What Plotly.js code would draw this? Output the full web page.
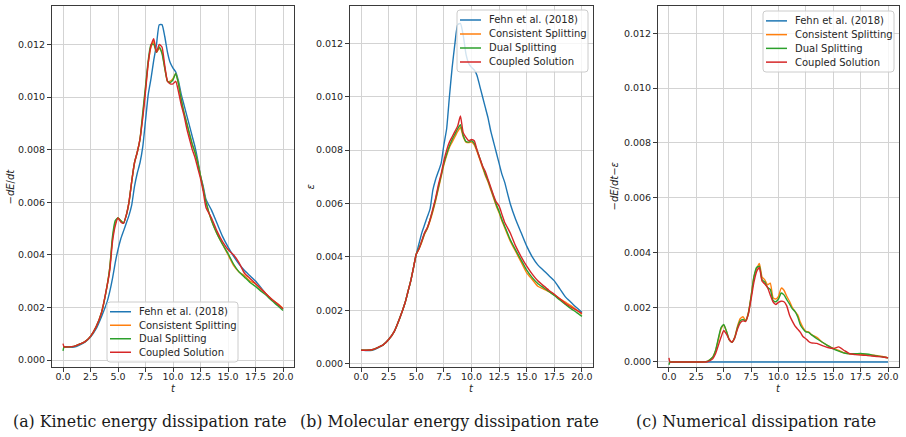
<!DOCTYPE html>
<html>
<head>
<meta charset="utf-8">
<script src="https://cdn.plot.ly/plotly-3.0.1.min.js"></script>
<style>
  html, body { margin: 0; padding: 0; background: #fff; }
  #plot { width: 906px; height: 437px; }
</style>
</head>
<body>
<div id="plot"></div>
<script>
// Time samples shared by all series
const t = [0, 0.1, 0.5, 1, 1.5, 2, 2.5, 3, 3.5,
  4, 4.25, 4.5, 4.75, 5, 5.25, 5.5, 5.75, 6, 6.25, 6.5, 6.75,
  7, 7.25, 7.5, 7.75, 8, 8.25, 8.5, 8.75, 9, 9.25, 9.5, 9.75,
  10, 10.25, 10.5, 10.75, 11, 11.25, 11.5, 11.75, 12, 12.25, 12.5, 12.75, 13,
  13.5, 14, 14.5, 15, 15.5, 16, 16.5, 17, 17.5, 18, 18.5, 19, 19.5, 20];

const seriesNames = ["Fehn et al. (2018)", "Consistent Splitting", "Dual Splitting", "Coupled Solution"];
const seriesColors = ["#1f77b4", "#ff7f0e", "#2ca02c", "#d62728"];

// (a) kinetic energy dissipation rate -dE/dt
const fehnKinetic = [0.00050, 0.00050, 0.00048, 0.00049, 0.00057, 0.00068, 0.00087, 0.00118, 0.00165,
  0.00220, 0.00260, 0.00310, 0.00370, 0.00420, 0.00460, 0.00490, 0.00520, 0.00550, 0.00590, 0.00660, 0.00710,
  0.00750, 0.00810, 0.00910, 0.01010, 0.01070, 0.01140, 0.01200, 0.01275, 0.01275, 0.01230, 0.01170, 0.01130,
  0.01110, 0.01095, 0.01060, 0.01010, 0.00970, 0.00930, 0.00890, 0.00850, 0.00810, 0.00760, 0.00700, 0.00660, 0.00610,
  0.00570, 0.00520, 0.00470, 0.00430, 0.00395, 0.00365, 0.00340, 0.00320, 0.00300, 0.00275, 0.00250, 0.00230, 0.00212, 0.00195];
const consistentKinetic = [0.00050, 0.00050, 0.00050, 0.00052, 0.00060, 0.00070, 0.00090, 0.00125, 0.00180,
  0.00280, 0.00350, 0.00460, 0.00520, 0.00540, 0.00530, 0.00520, 0.00550, 0.00600, 0.00680, 0.00750, 0.00790,
  0.00840, 0.00930, 0.01030, 0.01130, 0.01190, 0.01210, 0.01170, 0.01185, 0.01170, 0.01110, 0.01060, 0.01060,
  0.01070, 0.01090, 0.01050, 0.00990, 0.00940, 0.00900, 0.00860, 0.00820, 0.00790, 0.00750, 0.00700, 0.00650, 0.00600,
  0.00530, 0.00480, 0.00440, 0.00400, 0.00360, 0.00335, 0.00320, 0.00300, 0.00290, 0.00270, 0.00250, 0.00230, 0.00215, 0.00197];
const dualKinetic = [0.00035, 0.00050, 0.00050, 0.00052, 0.00060, 0.00070, 0.00090, 0.00125, 0.00180,
  0.00280, 0.00350, 0.00470, 0.00530, 0.00540, 0.00530, 0.00520, 0.00550, 0.00600, 0.00680, 0.00750, 0.00790,
  0.00840, 0.00940, 0.01040, 0.01140, 0.01200, 0.01200, 0.01170, 0.01190, 0.01165, 0.01110, 0.01060, 0.01055,
  0.01065, 0.01090, 0.01050, 0.00990, 0.00940, 0.00900, 0.00860, 0.00820, 0.00790, 0.00750, 0.00700, 0.00650, 0.00600,
  0.00530, 0.00480, 0.00440, 0.00405, 0.00365, 0.00335, 0.00315, 0.00295, 0.00280, 0.00262, 0.00245, 0.00225, 0.00207, 0.00188];
const coupledKinetic = [0.00062, 0.00050, 0.00050, 0.00052, 0.00060, 0.00070, 0.00090, 0.00125, 0.00180,
  0.00280, 0.00340, 0.00450, 0.00510, 0.00540, 0.00525, 0.00520, 0.00550, 0.00600, 0.00680, 0.00750, 0.00790,
  0.00840, 0.00920, 0.01020, 0.01130, 0.01195, 0.01222, 0.01170, 0.01200, 0.01190, 0.01120, 0.01060, 0.01050,
  0.01050, 0.01060, 0.01020, 0.00970, 0.00930, 0.00880, 0.00840, 0.00800, 0.00770, 0.00730, 0.00690, 0.00640, 0.00580,
  0.00540, 0.00490, 0.00450, 0.00420, 0.00400, 0.00370, 0.00330, 0.00310, 0.00290, 0.00270, 0.00250, 0.00230, 0.00213, 0.00195];

// (b) molecular energy dissipation rate epsilon
const fehnMolecular = [0.00050, 0.00050, 0.00049, 0.00050, 0.00058, 0.00070, 0.00090, 0.00120, 0.00170,
  0.00230, 0.00270, 0.00310, 0.00360, 0.00410, 0.00450, 0.00490, 0.00520, 0.00550, 0.00580, 0.00650, 0.00690,
  0.00720, 0.00750, 0.00820, 0.00880, 0.01000, 0.01110, 0.01200, 0.01270, 0.01275, 0.01230, 0.01160, 0.01125,
  0.01110, 0.01100, 0.01080, 0.01040, 0.01000, 0.00960, 0.00920, 0.00870, 0.00830, 0.00790, 0.00750, 0.00710, 0.00680,
  0.00600, 0.00540, 0.00490, 0.00440, 0.00400, 0.00370, 0.00350, 0.00330, 0.00310, 0.00280, 0.00250, 0.00230, 0.00210, 0.00192];
const consistentMolecular = [0.00050, 0.00050, 0.00050, 0.00052, 0.00060, 0.00070, 0.00090, 0.00120, 0.00170,
  0.00230, 0.00270, 0.00310, 0.00360, 0.00410, 0.00430, 0.00455, 0.00485, 0.00505, 0.00535, 0.00570, 0.00610,
  0.00655, 0.00700, 0.00745, 0.00780, 0.00810, 0.00830, 0.00850, 0.00870, 0.00885, 0.00850, 0.00830, 0.00828,
  0.00830, 0.00820, 0.00795, 0.00765, 0.00735, 0.00705, 0.00680, 0.00650, 0.00620, 0.00590, 0.00565, 0.00535, 0.00510,
  0.00460, 0.00420, 0.00380, 0.00340, 0.00315, 0.00290, 0.00280, 0.00270, 0.00258, 0.00243, 0.00230, 0.00217, 0.00202, 0.00185];
const dualMolecular = [0.00050, 0.00050, 0.00050, 0.00052, 0.00060, 0.00070, 0.00090, 0.00120, 0.00170,
  0.00230, 0.00270, 0.00310, 0.00360, 0.00410, 0.00432, 0.00458, 0.00488, 0.00508, 0.00540, 0.00575, 0.00615,
  0.00660, 0.00705, 0.00750, 0.00785, 0.00815, 0.00840, 0.00860, 0.00880, 0.00895, 0.00855, 0.00832, 0.00830,
  0.00835, 0.00825, 0.00800, 0.00770, 0.00740, 0.00710, 0.00685, 0.00655, 0.00625, 0.00595, 0.00570, 0.00540, 0.00515,
  0.00465, 0.00425, 0.00388, 0.00350, 0.00322, 0.00300, 0.00285, 0.00270, 0.00255, 0.00238, 0.00222, 0.00206, 0.00192, 0.00177];
const coupledMolecular = [0.00050, 0.00050, 0.00050, 0.00052, 0.00060, 0.00070, 0.00090, 0.00120, 0.00170,
  0.00230, 0.00270, 0.00310, 0.00360, 0.00410, 0.00430, 0.00460, 0.00490, 0.00510, 0.00540, 0.00580, 0.00620,
  0.00670, 0.00710, 0.00760, 0.00800, 0.00830, 0.00850, 0.00870, 0.00890, 0.00928, 0.00865, 0.00848, 0.00835,
  0.00840, 0.00835, 0.00800, 0.00770, 0.00740, 0.00720, 0.00690, 0.00660, 0.00630, 0.00605, 0.00590, 0.00560, 0.00530,
  0.00490, 0.00440, 0.00400, 0.00365, 0.00335, 0.00310, 0.00292, 0.00275, 0.00260, 0.00243, 0.00225, 0.00212, 0.00200, 0.00188];

// (c) numerical dissipation rate -dE/dt - epsilon
const fehnNumerical = [0, 0, 0, 0, 0, 0, 0, 0, 0,
  0, 0, 0, 0, 0, 0, 0, 0, 0, 0, 0, 0,
  0, 0, 0, 0, 0, 0, 0, 0, 0, 0, 0, 0,
  0, 0, 0, 0, 0, 0, 0, 0, 0, 0, 0, 0, 0,
  0, 0, 0, 0, 0, 0, 0, 0, 0, 0, 0, 0, 0, 0];
const consistentNumerical = [0, 0, 0, 0, 0, 0, 0, 0, 0.00002,
  0.00018, 0.00040, 0.00080, 0.00120, 0.00135, 0.00112, 0.00082, 0.00073, 0.00090, 0.00130, 0.00158, 0.00165,
  0.00152, 0.00180, 0.00240, 0.00310, 0.00340, 0.00360, 0.00310, 0.00300, 0.00282, 0.00288, 0.00235, 0.00230,
  0.00240, 0.00270, 0.00262, 0.00240, 0.00222, 0.00200, 0.00185, 0.00172, 0.00145, 0.00125, 0.00112, 0.00110, 0.00100,
  0.00090, 0.00072, 0.00060, 0.00050, 0.00042, 0.00033, 0.00030, 0.00029, 0.00028, 0.00027, 0.00025, 0.00023, 0.00020, 0.00015];
const dualNumerical = [-0.00010, 0, 0, 0, 0, 0, 0, 0, 0.00002,
  0.00018, 0.00042, 0.00085, 0.00125, 0.00137, 0.00112, 0.00082, 0.00072, 0.00088, 0.00125, 0.00150, 0.00155,
  0.00150, 0.00178, 0.00240, 0.00310, 0.00345, 0.00350, 0.00300, 0.00292, 0.00272, 0.00265, 0.00225, 0.00220,
  0.00230, 0.00252, 0.00245, 0.00228, 0.00212, 0.00195, 0.00185, 0.00165, 0.00135, 0.00120, 0.00110, 0.00108, 0.00100,
  0.00085, 0.00072, 0.00060, 0.00048, 0.00040, 0.00033, 0.00030, 0.00030, 0.00031, 0.00029, 0.00026, 0.00022, 0.00019, 0.00015];
const coupledNumerical = [0.00015, 0, 0, 0, 0, 0, 0, 0, 0.00001,
  0.00012, 0.00030, 0.00060, 0.00090, 0.00115, 0.00102, 0.00082, 0.00072, 0.00088, 0.00120, 0.00142, 0.00150,
  0.00148, 0.00175, 0.00230, 0.00290, 0.00330, 0.00345, 0.00295, 0.00285, 0.00272, 0.00245, 0.00220, 0.00210,
  0.00218, 0.00222, 0.00220, 0.00205, 0.00172, 0.00150, 0.00132, 0.00120, 0.00108, 0.00092, 0.00085, 0.00075, 0.00070,
  0.00068, 0.00060, 0.00053, 0.00049, 0.00055, 0.00042, 0.00030, 0.00027, 0.00025, 0.00024, 0.00022, 0.00020, 0.00018, 0.00015];

const xTicks = [0, 2.5, 5, 7.5, 10, 12.5, 15, 17.5, 20];
const xTickText = ["0.0", "2.5", "5.0", "7.5", "10.0", "12.5", "15.0", "17.5", "20.0"];
const yTicks = [0, 0.002, 0.004, 0.006, 0.008, 0.010, 0.012];
const yTickText = ["0.000", "0.002", "0.004", "0.006", "0.008", "0.010", "0.012"];

const captions = ["(a) Kinetic energy dissipation rate", "(b) Molecular energy dissipation rate", "(c) Numerical dissipation rate"];
const yLabels = ["−<i>dE</i>/<i>dt</i>", "<i>ε</i>", "−<i>dE</i>/<i>dt</i>−<i>ε</i>"];

const panels = [
  { series: [fehnKinetic, consistentKinetic, dualKinetic, coupledKinetic], yRange: [-0.000266, 0.01346] },
  { series: [fehnMolecular, consistentMolecular, dualMolecular, coupledMolecular], yRange: [-0.000128, 0.01340] },
  { series: [fehnNumerical, consistentNumerical, dualNumerical, coupledNumerical], yRange: [-0.000183, 0.013] }
];

const W = 906, H = 437;
// plot boxes in pixels: [left, right], shared top/bottom
const boxes = [[52, 294], [350, 593], [658, 899]];
const boxTop = 6, boxBottom = 367;
const captionX = [150, 449, 755.5];
const yLabelX = [10, 310, 614];
// legend frames in pixels: [left, right, top, bottom]
const legendBoxes = [[107, 238, 302, 362], [457, 588, 10, 72], [763, 894, 11, 72]];

const tickFont = { family: "DejaVu Sans, sans-serif", size: 9.5, color: "#262626" };
const gridColor = "#d3d3d3";
const spineColor = "#3a3a3a";

const px = v => v / W;
const py = v => (H - v) / H;

const traces = [];
const layout = {
  width: W, height: H,
  margin: { l: 0, r: 0, t: 0, b: 0 },
  paper_bgcolor: "#ffffff",
  plot_bgcolor: "#ffffff",
  showlegend: false,
  annotations: [],
  shapes: []
};

function roundedRect(l, r, top, bot, rad) {
  const x0 = px(l), x1 = px(r), y0 = py(bot), y1 = py(top);
  const rx = rad / W, ry = rad / H;
  return `M ${x0 + rx},${y1} L ${x1 - rx},${y1} Q ${x1},${y1} ${x1},${y1 - ry} ` +
    `L ${x1},${y0 + ry} Q ${x1},${y0} ${x1 - rx},${y0} L ${x0 + rx},${y0} ` +
    `Q ${x0},${y0} ${x0},${y0 + ry} L ${x0},${y1 - ry} Q ${x0},${y1} ${x0 + rx},${y1} Z`;
}

panels.forEach((p, i) => {
  const n = i === 0 ? "" : String(i + 1);
  const xa = "x" + n, ya = "y" + n;
  p.series.forEach((vals, k) => {
    traces.push({
      x: t, y: vals, xaxis: xa, yaxis: ya,
      type: "scatter", mode: "lines",
      name: seriesNames[k],
      line: { color: seriesColors[k], width: 1.4, shape: "spline", smoothing: 0.5 }
    });
  });
  const [l, r] = boxes[i];
  layout["xaxis" + n] = {
    domain: [px(l), px(r)], anchor: ya, range: [-1, 21],
    tickvals: xTicks, ticktext: xTickText, tickfont: tickFont,
    ticks: "outside", ticklen: 4, tickwidth: 1, tickcolor: spineColor,
    ticklabelstandoff: -3,
    showgrid: true, gridcolor: gridColor, gridwidth: 1, zeroline: false,
    showline: true, linecolor: spineColor, linewidth: 1, mirror: true
  };
  layout["yaxis" + n] = {
    domain: [py(boxBottom), py(boxTop)], anchor: xa, range: p.yRange,
    tickvals: yTicks, ticktext: yTickText, tickfont: tickFont,
    ticks: "outside", ticklen: 4, tickwidth: 1, tickcolor: spineColor,
    showgrid: true, gridcolor: gridColor, gridwidth: 1, zeroline: false,
    showline: true, linecolor: spineColor, linewidth: 1, mirror: true
  };

  // legend frame, line samples and entry names
  const [ll, lr, lt, lb] = legendBoxes[i];
  layout.shapes.push({
    type: "path", xref: "paper", yref: "paper", layer: "above",
    path: roundedRect(ll, lr, lt, lb, 3),
    fillcolor: "rgba(255,255,255,0.8)", line: { color: "#cccccc", width: 1 }
  });
  const rowH = (lb - lt - 6) / 4;
  seriesNames.forEach((name, k) => {
    const yc = lt + 3 + rowH * (k + 0.5);
    layout.shapes.push({
      type: "line", xref: "paper", yref: "paper", layer: "above",
      x0: px(ll + 3), x1: px(ll + 24), y0: py(yc), y1: py(yc),
      line: { color: seriesColors[k], width: 1.5 }
    });
    layout.annotations.push({
      text: name, xref: "paper", yref: "paper",
      x: px(ll + 30), y: py(yc), xanchor: "left", yanchor: "middle",
      showarrow: false, font: { family: "DejaVu Sans, sans-serif", size: 10, color: "#262626" }
    });
  });

  // x axis label
  layout.annotations.push({
    text: "<i>t</i>", xref: "paper", yref: "paper",
    x: px((l + r) / 2), y: py(388.5), xanchor: "center", yanchor: "middle",
    showarrow: false, font: { family: "DejaVu Sans, sans-serif", size: 10, color: "#262626" }
  });
  // y axis label
  layout.annotations.push({
    text: yLabels[i], xref: "paper", yref: "paper",
    x: px(yLabelX[i]), y: py((boxTop + boxBottom) / 2),
    xanchor: "center", yanchor: "middle", textangle: -90,
    showarrow: false, font: { family: "DejaVu Sans, sans-serif", size: 10, color: "#262626" }
  });
  // caption under each panel
  layout.annotations.push({
    text: captions[i], xref: "paper", yref: "paper",
    x: px(captionX[i]), y: py(421), xanchor: "center", yanchor: "middle",
    showarrow: false, font: { family: "DejaVu Serif, serif", size: 15.8, color: "#1a1a1a" }
  });
});

Plotly.newPlot("plot", traces, layout, { staticPlot: true, displayModeBar: false });
</script>
</body>
</html>
